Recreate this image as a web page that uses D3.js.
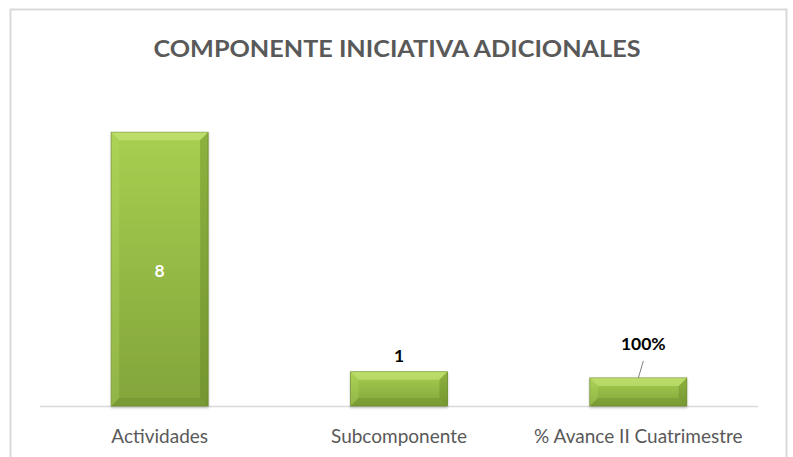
<!DOCTYPE html>
<html>
<head>
<meta charset="utf-8">
<script src="https://cdn.jsdelivr.net/npm/d3@7"></script>
<style>
  body { margin: 0; background: #fff; }
  svg { display: block; font-family: Lato, "Open Sans", sans-serif; }
</style>
</head>
<body>
<svg id="chart" width="793" height="457"></svg>
<script>
const CATEGORIES = ["Actividades", "Subcomponente", "% Avance II Cuatrimestre"];
const VALUES = [8, 1, 0.82];
const VALUE_LABELS = ["8", "1", "100%"];
const TITLE = "COMPONENTE INICIATIVA ADICIONALES";

const svg = d3.select("#chart");
const plot = { left: 40, right: 758, top: 98, bottom: 406 };

// outer frame
svg.append("rect")
  .attr("x", 10.5).attr("y", 9.5)
  .attr("width", 776).attr("height", 460)
  .attr("fill", "#fff")
  .attr("stroke", "#d9d9d9")
  .attr("stroke-width", 2);

svg.append("text")
  .attr("x", 397).attr("y", 57)
  .attr("text-anchor", "middle")
  .attr("font-size", 23.5)
  .attr("font-weight", "bold")
  .attr("fill", "#595959")
  .attr("textLength", 487)
  .attr("lengthAdjust", "spacingAndGlyphs")
  .text(TITLE);

const x = d3.scaleBand()
  .domain(CATEGORIES)
  .range([plot.left, plot.right])
  .paddingInner(0.595)
  .paddingOuter(0.2975);

const y = d3.scaleLinear().domain([0, 9]).range([plot.bottom, plot.top]);

const defs = svg.append("defs");
const grad = defs.append("linearGradient")
  .attr("id", "barGrad").attr("x1", 0).attr("y1", 0).attr("x2", 0).attr("y2", 1);
grad.append("stop").attr("offset", "0%").attr("stop-color", "#a8cf50");
grad.append("stop").attr("offset", "100%").attr("stop-color", "#82a43a");

const shadow = defs.append("filter").attr("id", "shadow")
  .attr("x", "-10%").attr("y", "-10%").attr("width", "120%").attr("height", "130%");
shadow.append("feDropShadow")
  .attr("dx", 0).attr("dy", 1.5).attr("stdDeviation", 1.2)
  .attr("flood-color", "#000").attr("flood-opacity", 0.25);

// baseline
svg.append("line")
  .attr("x1", plot.left).attr("x2", plot.right)
  .attr("y1", plot.bottom + 0.5).attr("y2", plot.bottom + 0.5)
  .attr("stroke", "#d9d9d9").attr("stroke-width", 1.5);

const data = CATEGORIES.map((c, i) => ({ cat: c, value: VALUES[i], label: VALUE_LABELS[i] }));

const bars = svg.append("g").selectAll("g.bar")
  .data(data).enter().append("g").classed("bar", true);

const bevel = 8;
bars.append("rect")
  .attr("x", (d) => x(d.cat))
  .attr("y", (d) => y(d.value))
  .attr("width", x.bandwidth())
  .attr("height", (d) => plot.bottom - y(d.value))
  .attr("fill", "url(#barGrad)")
  .attr("stroke", "#6f8c2f")
  .attr("stroke-width", 0.8)
  .attr("filter", "url(#shadow)");

// bevel edges
function edges(d) {
  const x0 = x(d.cat), x1 = x0 + x.bandwidth();
  const y0 = y(d.value), y1 = plot.bottom;
  const b = Math.min(bevel, (y1 - y0) / 2 - 1);
  return [
    { pts: [[x0, y0], [x1, y0], [x1 - b, y0 + b], [x0 + b, y0 + b]], fill: "#c8e67c", op: 0.6 },
    { pts: [[x0, y1], [x1, y1], [x1 - b, y1 - b], [x0 + b, y1 - b]], fill: "#5f7d22", op: 0.25 },
    { pts: [[x0, y0], [x0 + b, y0 + b], [x0 + b, y1 - b], [x0, y1]], fill: "#b7da63", op: 0.3 },
    { pts: [[x1, y0], [x1 - b, y0 + b], [x1 - b, y1 - b], [x1, y1]], fill: "#5b7a1f", op: 0.35 }
  ];
}
bars.selectAll("polygon")
  .data(edges).enter().append("polygon")
  .attr("points", (e) => e.pts.map((p) => p.join(",")).join(" "))
  .attr("fill", (e) => e.fill)
  .attr("opacity", (e) => e.op);

// value labels
bars.append("text")
  .attr("x", (d) => x(d.cat) + x.bandwidth() / 2)
  .attr("y", (d, i) => i === 0 ? (y(d.value) + plot.bottom) / 2 + 8 : (i === 1 ? y(d.value) - 10 : y(d.value) - 28))
  .attr("dx", (d, i) => i === 2 ? 5 : 0)
  .attr("text-anchor", "middle")
  .attr("font-size", 17.5)
  .attr("font-weight", "bold")
  .attr("fill", (d, i) => i === 0 ? "#fff" : "#000")
  .text((d) => d.label);

// leader line for the last label
const last = data[2];
svg.append("line")
  .attr("x1", x(last.cat) + x.bandwidth() / 2 + 5).attr("y1", y(last.value) - 17)
  .attr("x2", x(last.cat) + x.bandwidth() / 2).attr("y2", y(last.value))
  .attr("stroke", "#7f7f7f").attr("stroke-width", 1);

// category axis
const xAxis = svg.append("g")
  .attr("transform", `translate(0,${plot.bottom})`)
  .call(d3.axisBottom(x).tickSize(0).tickPadding(23.5));
xAxis.select(".domain").remove();
xAxis.selectAll("text")
  .attr("font-family", "Lato, 'Open Sans', sans-serif")
  .attr("font-size", 19)
  .attr("fill", "#595959");
</script>
</body>
</html>
